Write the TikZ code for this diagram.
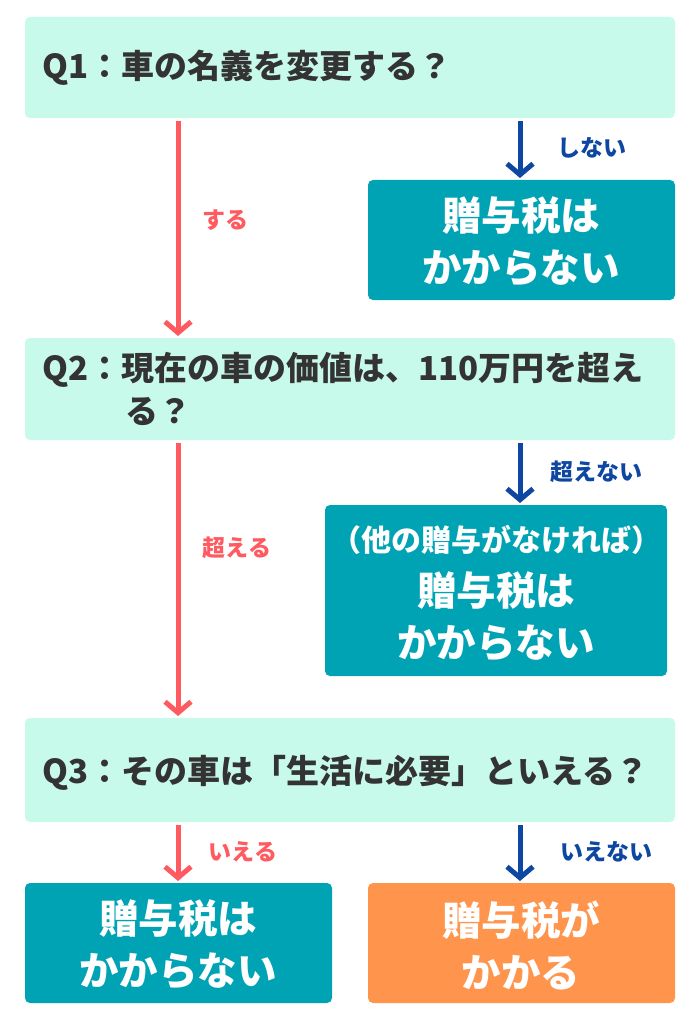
\documentclass[tikz,border=0pt]{standalone}
\usepackage{fontspec}
\setmainfont{Noto Sans CJK JP}
\usetikzlibrary{arrows.meta}
\definecolor{mint}{HTML}{C8FAEB}
\definecolor{teal}{HTML}{00A3B4}
\definecolor{org}{HTML}{FF944D}
\definecolor{rd}{HTML}{FF5A5F}
\definecolor{bl}{HTML}{0D47A1}
\definecolor{tx}{HTML}{333333}
\begin{document}
\begin{tikzpicture}[x=1pt,y=-1pt,
 q/.style={fill=mint,rounded corners=5pt,draw=none},
 ans/.style={rounded corners=5pt,draw=none},
 qt/.style={font=\fontsize{33}{38}\selectfont\bfseries,text=tx,anchor=west,inner sep=0},
 atx/.style={font=\fontsize{39.5}{52}\selectfont\bfseries,text=white,align=center},
 ra/.style={draw=rd,line width=5pt,-{Straight Barb[length=11pt,width=26pt,line width=5pt]}},
 ba/.style={draw=bl,line width=5pt,-{Straight Barb[length=11pt,width=26pt,line width=5pt]}},
 rl/.style={text=rd,font=\fontsize{23}{26}\selectfont\bfseries},
 bll/.style={text=bl,font=\fontsize{23}{26}\selectfont\bfseries}]
\useasboundingbox (0,0) rectangle (700,1016);
\fill[white] (0,0) rectangle (700,1016);
% Q1
\fill[q] (25,17) rectangle (675,118);
\node[qt] (q1) at (42,68) {Q1：車の名義を変更する？};
\fill[ans,fill=teal] (368,180) rectangle (675,300);
\node[atx] (a1) at (521,242) {贈与税は\\かからない};
\coordinate (b1s) at (520,121); \coordinate (b1e) at (520,178);
\draw[ba] (b1s) -- (b1e);
\node[bll] (l1) at (592,148) {しない};
\coordinate (r1s) at (178,121); \coordinate (r1e) at (178,336);
\draw[ra] (r1s) -- (r1e);
\node[rl] (l2) at (225,220) {する};
% Q2
\fill[q] (25,338) rectangle (675,440);
\node[qt] (q2) at (42,370) {Q2：現在の車の価値は、110万円を超え};
\node[qt] (q2b) at (125,412) {る？};
\coordinate (b2s) at (520,443); \coordinate (b2e) at (520,503);
\draw[ba] (b2s) -- (b2e);
\node[bll] (l3) at (596,472) {超えない};
\fill[ans,fill=teal] (325,505) rectangle (667,676);
\node[atx,font=\fontsize{30}{36}\selectfont\bfseries] (a2a) at (496,540) {（他の贈与がなければ）};
\node[atx] (a2) at (496,617) {贈与税は\\かからない};
\coordinate (r2s) at (178,443); \coordinate (r2e) at (178,716);
\draw[ra] (r2s) -- (r2e);
\node[rl] (l4) at (237,548) {超える};
% Q3
\fill[q] (25,718) rectangle (675,822);
\node[qt] (q3) at (42,773) {Q3：その車は「生活に必要」といえる？};
\coordinate (r3s) at (178,825); \coordinate (r3e) at (178,881);
\draw[ra] (r3s) -- (r3e);
\node[rl] (l5) at (243,852) {いえる};
\coordinate (b3s) at (520,825); \coordinate (b3e) at (520,881);
\draw[ba] (b3s) -- (b3e);
\node[bll] (l6) at (606,852) {いえない};
\fill[ans,fill=teal] (25,883) rectangle (332,1003);
\node[atx] (a3) at (178,945) {贈与税は\\かからない};
\fill[ans,fill=org] (368,883) rectangle (675,1003);
\node[atx] (a4) at (521,945) {贈与税が\\かかる};
\end{tikzpicture}
\end{document}
